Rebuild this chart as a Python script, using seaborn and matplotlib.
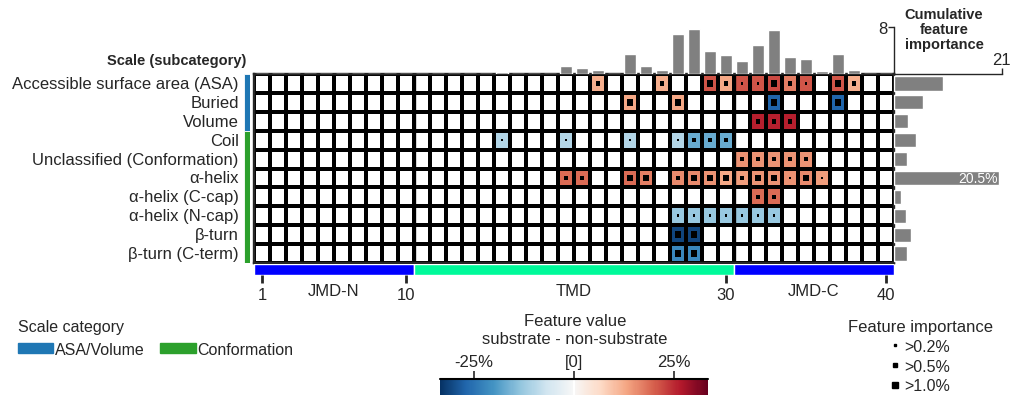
import numpy as np
import pandas as pd
import seaborn as sns
import matplotlib.pyplot as plt
from matplotlib.colors import ListedColormap, Normalize
from matplotlib.cm import ScalarMappable
from matplotlib.patches import Patch
from matplotlib.lines import Line2D

sns.set_style("white")
plt.rcParams['font.family'] = ['Liberation Sans', 'DejaVu Sans']

# scales (rows) and their category
scales = ["Accessible surface area (ASA)", "Buried", "Volume", "Coil",
          "Unclassified (Conformation)", "α-helix", "α-helix (C-cap)",
          "α-helix (N-cap)", "β-turn", "β-turn (C-term)"]
scale_cat = ["ASA/Volume"] * 3 + ["Conformation"] * 7
cat_names = ["ASA/Volume", "Conformation"]
cat_colors = ["#1f77b4", "#2ca02c"]
positions = list(range(1, 41))

# feature cells: row index, residue position, feature value (%), importance level (1: >0.2, 2: >0.5, 3: >1.0)
cell_row = ([0] * 11 + [1] * 4 + [2] * 3 + [3] * 7 + [4] * 5 + [5] * 14
            + [6] * 2 + [7] * 7 + [8] * 2 + [9] * 2)
cell_pos = ([22, 26, 29, 30, 31, 32, 33, 34, 35, 37, 38]
            + [24, 27, 33, 37]
            + [32, 33, 34]
            + [16, 20, 24, 27, 28, 29, 30]
            + [31, 32, 33, 34, 35]
            + [20, 21, 24, 25, 27, 28, 29, 30, 31, 32, 33, 34, 35, 36]
            + [32, 33]
            + [27, 28, 29, 30, 31, 32, 33]
            + [27, 28]
            + [27, 28])
cell_val = ([12, 12, 21, 13, 21, 21, 22, 17, 21, 21, 12]
            + [13, 13, -27, -27]
            + [26, 26, 26]
            + [-10, -10, -10, -10, -17, -17, -17]
            + [15, 15, 15, 15, 15]
            + [19, 19, 19, 17, 16, 16, 15, 13, 14, 15, 15, 15, 16, 14]
            + [19, 19]
            + [-13, -13, -13, -13, -13, -13, -13]
            + [-31, -31]
            + [-22, -22])
cell_imp = ([2, 2, 3, 2, 1, 1, 3, 2, 1, 3, 2]
            + [3, 3, 3, 3]
            + [2, 2, 2]
            + [1, 1, 1, 1, 2, 2, 2]
            + [2, 2, 2, 2, 2]
            + [2, 2, 3, 3, 2, 3, 3, 3, 2, 3, 3, 1, 3, 1]
            + [2, 2]
            + [1, 1, 1, 1, 1, 1, 1]
            + [3, 3]
            + [3, 3])

# cumulative feature importance per position and per scale
pos_imp = [0, 0, 0, 0, 0, 0, 0, 0, 0, 0,
           0, 0, 0, 0, 0, 0.33, 0, 0, 0, 1.34,
           1.0, 0.67, 0, 3.35, 1.34, 0.67, 6.87, 7.7, 4.0, 3.2,
           2.2, 5.0, 7.5, 2.85, 2.5, 0.5, 3.35, 0.67, 0, 0]
scale_imp = [9.5, 5.6, 2.7, 4.2, 2.5, 20.5, 1.3, 2.3, 3.4, 2.5]

# TMD / JMD regions
region_names = ["JMD-N", "TMD", "JMD-C"]
region_start = [0, 10, 30]
region_len = [10, 20, 10]
region_colors = ["#0000ff", "#00fa9a", "#0000ff"]
pos_ticks = [1, 10, 30, 40]

imp_labels = [">0.2%", ">0.5%", ">1.0%"]
imp_sizes = [3.5, 11, 24]

W, H = 1018, 406
fig = plt.figure(figsize=(W / 100, H / 100), dpi=100)


def add_ax(x0, y0, w, h):
    return fig.add_axes([x0 / W, 1 - (y0 + h) / H, w / W, h / H])


vlim = 33.5
pal = sns.color_palette("RdBu_r", 255)
pal[127] = (1, 1, 1)
cmap = ListedColormap(pal)

# heatmap
mat = pd.DataFrame(0.0, index=scales, columns=positions)
for r, p, v in zip(cell_row, cell_pos, cell_val):
    mat.iloc[r, p - 1] = v

ax = add_ax(254, 75, 640, 189)
sns.heatmap(mat, ax=ax, cmap=cmap, vmin=-vlim, vmax=vlim, cbar=False,
            linewidths=1.7, linecolor="black")
ax.scatter(np.array(cell_pos) - 0.5, np.array(cell_row) + 0.5, marker="s",
           s=[imp_sizes[i - 1] for i in cell_imp], color="black", linewidths=0)
ax.axvline(10, color="black", lw=2.4)
ax.axvline(30, color="black", lw=2.4)
ax.set_xticks([])
ax.set_xlabel("")
ax.set_ylabel("")
ax.set_yticks(np.arange(len(scales)) + 0.5)
ax.set_yticklabels(scales, fontsize=12, rotation=0)
ax.tick_params(axis="y", length=0, pad=11)
for s in ax.spines.values():
    s.set_visible(True)
    s.set_linewidth(1.7)
fig.text(246 / W, 1 - 61 / H, "Scale (subcategory)", ha="right", va="center",
         fontsize=10.5, fontweight="bold")

# category strip
axc = add_ax(244, 75, 6, 189)
cat_rows = [scale_cat.count(c) for c in cat_names]
axc.bar(x=[0, 0], height=cat_rows, bottom=[0, cat_rows[0]], width=1,
        color=cat_colors, edgecolor="white", linewidth=0.6)
axc.set_ylim(len(scales), 0)
axc.set_xlim(-0.5, 0.5)
axc.axis("off")

# top bars
axt = add_ax(254, 28, 640, 47)
sns.barplot(x=positions, y=pos_imp, ax=axt, color="#808080", saturation=1,
            width=0.8)
axt.set_xlim(-0.5, 39.5)
axt.set_ylim(0, 8)
axt.set_xticks([])
axt.set_xlabel("")
for k in ["top", "bottom", "right"]:
    axt.spines[k].set_visible(False)
axt.spines["left"].set_position(("data", 39.5))
axt.spines["left"].set_linewidth(1)
axt.set_yticks([8])
axt.set_yticklabels(["8"], fontsize=12)
axt.tick_params(axis="y", left=True, length=4, width=1, pad=1)
axt.patch.set_alpha(0)

# right bars
axr = add_ax(894, 75, 107.7, 189)
sns.barplot(x=scale_imp, y=scales, orient="h", ax=axr, color="#808080",
            saturation=1, width=0.75)
axr.set_xlim(0, 21)
axr.set_ylim(len(scales) - 0.5, -0.5)
axr.set_yticks([])
axr.set_ylabel("")
axr.xaxis.tick_top()
axr.set_xticks([21])
axr.set_xticklabels(["21"], fontsize=12)
axr.tick_params(axis="x", top=True, bottom=False, length=4, width=1, pad=1)
for k in ["left", "bottom", "right"]:
    axr.spines[k].set_visible(False)
axr.spines["top"].set_linewidth(1)
axr.patch.set_alpha(0)
top_i = int(np.argmax(scale_imp))
axr.text(scale_imp[top_i] - 0.3, top_i, f"{scale_imp[top_i]}%", ha="right",
         va="center", color="white", fontsize=10)
fig.text(944 / W, 1 - 30 / H, "Cumulative\nfeature\nimportance", ha="center",
         va="center", fontsize=10.5, fontweight="bold", linespacing=1.1)

# region strip
axg = add_ax(254, 265, 640, 11)
axg.barh(y=[0] * 3, width=region_len, left=region_start, height=1,
         color=region_colors)
axg.set_xlim(0, 40)
axg.set_ylim(-0.5, 0.5)
for s in axg.spines.values():
    s.set_visible(False)
axg.set_yticks([])
axg.set_xticks(np.array(pos_ticks) - 0.5)
axg.set_xticklabels([str(p) for p in pos_ticks], fontsize=12)
axg.tick_params(axis="x", bottom=True, length=6, width=2, pad=3)
for name, st, ln in zip(region_names, region_start, region_len):
    axg.text(st + ln / 2, -1.4, name, transform=axg.get_xaxis_transform(),
             ha="center", va="center", fontsize=12)

# scale category legend
handles = [Patch(color=c, label=n) for c, n in zip(cat_colors, cat_names)]
leg = fig.legend(handles=handles, title="Scale category", ncol=2,
                 loc="upper left", bbox_to_anchor=(18 / W, 1 - 320 / H),
                 frameon=False, fontsize=11.5, title_fontsize=11.5,
                 handlelength=2.2, handleheight=0.6, handletextpad=0.1,
                 columnspacing=1.0, borderpad=0, borderaxespad=0)
leg._legend_box.align = "left"

# colorbar
cax = add_ax(440, 380, 268, 16)
cb = fig.colorbar(ScalarMappable(norm=Normalize(-vlim, vlim), cmap=cmap),
                  cax=cax, orientation="horizontal")
cb.outline.set_visible(False)
cax.xaxis.set_ticks_position("top")
cb.set_ticks([-25, 0, 25])
cb.set_ticklabels(["-25%", "[0]", "25%"], fontsize=12)
cax.tick_params(axis="x", top=True, length=6, width=1.2, pad=1)
cax.plot([0, 1], [1, 1], transform=cax.transAxes, color="black", lw=1.5,
         clip_on=False)
fig.text(575 / W, 1 - 322 / H, "Feature value", ha="center", va="center",
         fontsize=12)
fig.text(575 / W, 1 - 339 / H, "substrate - non-substrate", ha="center",
         va="center", fontsize=12)

# feature importance legend
imp_handles = [Line2D([], [], marker="s", linestyle="", color="black",
                      markersize=np.sqrt(s), label=l)
               for s, l in zip(imp_sizes, imp_labels)]
fig.legend(handles=imp_handles, title="Feature importance", loc="upper center",
           bbox_to_anchor=(920 / W, 1 - 320 / H), frameon=False, fontsize=11.5,
           title_fontsize=12, handlelength=0.6, handletextpad=0.3,
           labelspacing=0.3, borderpad=0, borderaxespad=0)

fig.savefig("out.png", dpi=100)
